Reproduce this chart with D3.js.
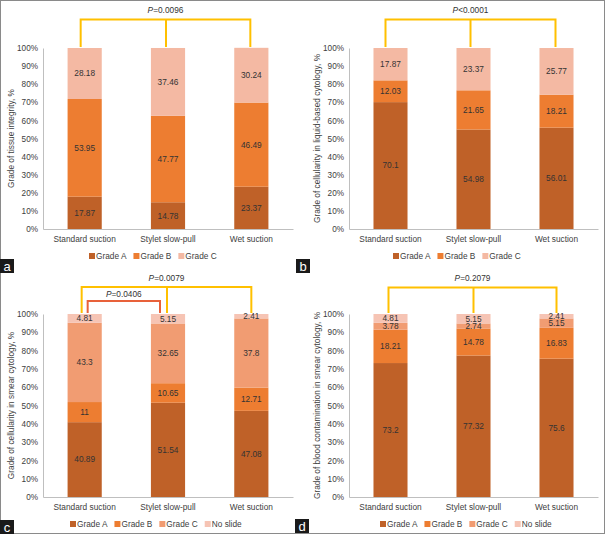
<!DOCTYPE html>
<html><head><meta charset="utf-8">
<script src="https://cdn.jsdelivr.net/npm/d3@7/dist/d3.min.js"></script>
<style>body{margin:0;background:#fff}svg{display:block}text{font-family:"Liberation Sans",Arial,sans-serif}</style>
</head><body><svg id="c" width="605" height="534"></svg>
<script>
const categories = ["Standard suction", "Stylet slow-pull", "Wet suction"];
const yTicks = [0,10,20,30,40,50,60,70,80,90,100];

const seriesA = ["Grade A", "Grade B", "Grade C"];
const tissueA = [17.87, 14.78, 23.37];
const tissueB = [53.95, 47.77, 46.49];
const tissueC = [28.18, 37.46, 30.24];

const lbcA = [70.1, 54.98, 56.01];
const lbcB = [12.03, 21.65, 18.21];
const lbcC = [17.87, 23.37, 25.77];

const seriesC = ["Grade A", "Grade B", "Grade C", "No slide"];
const smearA = [40.89, 51.54, 47.08];
const smearB = [11, 10.65, 12.71];
const smearC = [43.3, 32.65, 37.8];
const smearN = [4.81, 5.15, 2.41];

const bloodA = [73.2, 77.32, 75.6];
const bloodB = [18.21, 14.78, 16.83];
const bloodC = [3.78, 2.74, 5.15];
const bloodN = [4.81, 5.15, 2.41];

const pTexts = ["=0.0096", "<0.0001", "=0.0079", "=0.0406", "=0.2079"];

const colors3 = ["#BF6128", "#ED7D31", "#F4B9A3"];
const colors4 = ["#BF6128", "#ED7D31", "#F19C72", "#F6C4B4"];

const svg = d3.select("#c");
svg.append("rect").attr("x",0.5).attr("y",0.5).attr("width",604).attr("height",533)
  .attr("fill","none").attr("stroke","#8a8a8a").attr("stroke-width",1);

function panel(o){
  const g = svg.append("g");
  const x = d3.scaleBand().domain(categories).range([o.x0, o.x1]).paddingInner(0.59).paddingOuter(0.295);
  const y = d3.scaleLinear().domain([0,100]).range([o.yb, o.yt]);
  const stack = d3.stack().keys(o.series.map((s,i)=>i))(categories.map((c,ci)=>o.values.map(v=>v[ci])));
  stack.forEach((layer,li)=>{
    layer.forEach((d,ci)=>{
      g.append("rect").attr("x",x(categories[ci])).attr("width",x.bandwidth())
        .attr("y",y(d[1])).attr("height",y(d[0])-y(d[1])).attr("fill",o.colors[li]);
    });
  });
  // labels
  stack.forEach((layer,li)=>{
    layer.forEach((d,ci)=>{
      g.append("text").attr("x",x(categories[ci])+x.bandwidth()/2).attr("y",(y(d[0])+y(d[1]))/2)
        .attr("dy","0.35em").attr("text-anchor","middle").attr("font-size",8.3).attr("fill","#333")
        .text(o.values[li][ci]);
    });
  });
  // y axis
  const ya = g.append("g").attr("transform",`translate(${o.x0},0)`)
    .call(d3.axisLeft(y).tickValues(yTicks).tickSize(0).tickPadding(5).tickFormat(d=>d+"%"));
  ya.select(".domain").attr("stroke","#BFBFBF");
  ya.selectAll("text").attr("font-size",8.2).attr("fill","#404040").attr("font-family","Liberation Sans, Arial, sans-serif");
  const xa = g.append("g").attr("transform",`translate(0,${o.yb})`)
    .call(d3.axisBottom(x).tickSize(0).tickPadding(7));
  xa.select(".domain").attr("stroke","#BFBFBF");
  xa.selectAll("text").attr("font-size",8.3).attr("fill","#404040").attr("font-family","Liberation Sans, Arial, sans-serif");
  // y title
  g.append("text").attr("transform",`translate(${o.tx},${(o.yb+o.yt)/2}) rotate(-90)`)
    .attr("text-anchor","middle").attr("dy","0.35em").attr("font-size",8.3).attr("fill","#404040").text(o.title);
  // legend
  let lx = o.legX;
  o.series.forEach((s,i)=>{
    g.append("rect").attr("x",lx).attr("y",o.legY-3).attr("width",6).attr("height",6).attr("fill",o.colors[i]);
    const t = g.append("text").attr("x",lx+7).attr("y",o.legY).attr("dy","0.35em")
      .attr("font-size",8.3).attr("fill","#404040").text(s);
    lx += 7 + t.node().getComputedTextLength() + 7;
  });
  // brackets
  o.brackets.forEach(b=>{
    const xs = b.idx.map((ci,k)=>x(categories[ci])+x.bandwidth()/2 + b.off[k]);
    const path = d3.path();
    path.moveTo(xs[0], o.yt-1); path.lineTo(xs[0], b.y); path.lineTo(xs[xs.length-1], b.y); path.lineTo(xs[xs.length-1], o.yt-1);
    if (xs.length===3){ path.moveTo(xs[1], b.y); path.lineTo(xs[1], o.yt-1); }
    g.append("path").attr("d",path.toString()).attr("fill","none").attr("stroke",b.color).attr("stroke-width",2);
    const cx = (xs[0]+xs[xs.length-1])/2;
    const t = g.append("text").attr("x",cx).attr("y",b.ty).attr("dy","0.35em").attr("text-anchor","middle")
      .attr("font-size",8.3).attr("fill","#333");
    t.append("tspan").attr("font-style","italic").text("P");
    t.append("tspan").text(b.p);
  });
  // panel letter
  g.append("rect").attr("x",o.lbX).attr("y",o.lbY).attr("width",14).attr("height",14).attr("fill","#1a1a1a");
  g.append("text").attr("x",o.lbX+7).attr("y",o.lbY+7).attr("dy","0.36em").attr("text-anchor","middle")
    .attr("font-size",13).attr("fill","#fff").text(o.letter);
}

panel({x0:43, x1:293, yt:48, yb:229, tx:11, title:"Grade of tissue integrity, %",
  series:seriesA, colors:colors3, values:[tissueA,tissueB,tissueC], legX:89, legY:256,
  brackets:[{idx:[0,1,2], off:[-4,-2,-1], y:19.5, ty:10, color:"#FFC000", p:pTexts[0]}],
  lbX:0, lbY:259, letter:"a"});
panel({x0:349, x1:598, yt:48, yb:229, tx:317, title:"Grade of cellularity in liquid-based cytology, %",
  series:seriesA, colors:colors3, values:[lbcA,lbcB,lbcC], legX:393, legY:256,
  brackets:[{idx:[0,1,2], off:[-5,-3,-1], y:19.5, ty:10, color:"#FFC000", p:pTexts[1]}],
  lbX:296, lbY:259, letter:"b"});
panel({x0:43, x1:293, yt:314, yb:497, tx:11, title:"Grade of cellularity in smear cytology, %",
  series:seriesC, colors:colors4, values:[smearA,smearB,smearC,smearN], legX:70, legY:524,
  brackets:[{idx:[0,1,2], off:[-3,-1,0], y:287, ty:278, color:"#FFC000", p:pTexts[2]},
            {idx:[0,1], off:[3,-8], y:301, ty:294, color:"#E8613A", p:pTexts[3]}],
  lbX:0, lbY:520, letter:"c"});
panel({x0:349, x1:598, yt:314, yb:497, tx:317, title:"Grade of blood contamination in smear cytology, %",
  series:seriesC, colors:colors4, values:[bloodA,bloodB,bloodC,bloodN], legX:380, legY:524,
  brackets:[{idx:[0,1,2], off:[-2,0,0], y:287.5, ty:278, color:"#FFC000", p:pTexts[4]}],
  lbX:295, lbY:519, letter:"d"});
</script></body></html>
